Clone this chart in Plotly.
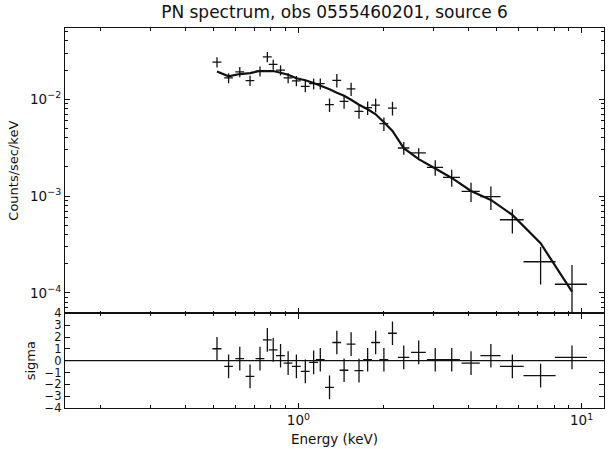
import plotly.graph_objects as go

# ---- data ----
energy = [0.516, 0.567, 0.621, 0.675, 0.732, 0.777, 0.815, 0.865, 0.920, 0.984,
          1.058, 1.132, 1.195, 1.288, 1.367, 1.450, 1.535, 1.637, 1.756, 1.874,
          2.004, 2.149, 2.355, 2.659, 3.042, 3.478, 4.069, 4.782, 5.695, 7.164, 9.247]
energy_err = [0.019, 0.020, 0.022, 0.024, 0.026, 0.028, 0.029, 0.031, 0.033, 0.035,
              0.038, 0.041, 0.043, 0.046, 0.049, 0.052, 0.055, 0.059, 0.063, 0.067,
              0.072, 0.077, 0.11, 0.16, 0.20, 0.24, 0.30, 0.39, 0.55, 0.93, 1.20]
counts = [0.0242, 0.0166, 0.0192, 0.0156, 0.0195, 0.0274, 0.0229, 0.0200, 0.0166, 0.0155,
          0.0136, 0.0145, 0.0145, 0.0088, 0.0157, 0.0095, 0.0128, 0.0075, 0.0082, 0.0087,
          0.0056, 0.0081, 0.00314, 0.00279, 0.00198, 0.00156, 0.00112, 0.00099, 0.00057,
          0.00021, 0.000123]
counts_err = [0.0029, 0.0020, 0.0023, 0.0019, 0.0023, 0.0033, 0.0027, 0.0024, 0.0020, 0.0019,
              0.0018, 0.0019, 0.0019, 0.0014, 0.0025, 0.0015, 0.0020, 0.0012, 0.0013, 0.0014,
              0.0009, 0.0013, 0.00047, 0.00033, 0.00036, 0.00031, 0.00025, 0.00027, 0.00016,
              0.000088, 0.000071]
model = [0.01939, 0.01729, 0.01822, 0.01866, 0.01957, 0.01971, 0.01957, 0.01879, 0.01792, 0.01649,
         0.01572, 0.01470, 0.01389, 0.01269, 0.01167, 0.01087, 0.00988, 0.00877, 0.00788, 0.00700,
         0.00578, 0.00472, 0.00313, 0.00241, 0.00193, 0.00154, 0.00113, 0.000914, 0.000639,
         0.000326, 0.000103]
sigma = [1.01, -0.48, 0.17, -1.32, 0.17, 1.76, 0.92, 0.42, -0.20, -0.48,
         -0.90, -0.14, 0.08, -2.25, 1.54, -0.81, 1.40, -0.84, 0.08, 1.54,
         0.08, 2.32, 0.28, 0.70, 0.08, 0.08, -0.20, 0.42, -0.48, -1.26, 0.28]
sigma_err = [1, 1, 1, 1, 1, 1, 1, 1, 1, 1, 1, 1, 1, 1, 1, 1, 1, 1, 1, 1,
             1, 1, 1, 1, 1, 1, 1, 1, 1, 1, 1]

x_tickvals = [1, 10]
x_ticktext = ["10<sup>0</sup>", "10<sup>1</sup>"]
y_tickvals = [1e-4, 1e-3, 1e-2]
y_ticktext = ["10<sup>\u22124</sup>", "10<sup>\u22123</sup>", "10<sup>\u22122</sup>"]
sigma_ticks = [-4, -3, -2, -1, 0, 1, 2, 3, 4]

title = "PN spectrum, obs 0555460201, source 6"

x_minor = [m * 10.0 ** d for d in (-1, 0) for m in range(2, 10)]
y_minor = [m * 10.0 ** d for d in (-5, -4, -3, -2) for m in range(2, 10)]

INK = "#111111"
FONT = "DejaVu Sans"

fig = go.Figure()

err_style = dict(type="data", symmetric=True, color=INK, thickness=1.3, width=0)

fig.add_trace(go.Scatter(
    x=energy, y=counts, mode="markers",
    marker=dict(size=1, color="rgba(0,0,0,0)"),
    error_x=dict(array=energy_err, **err_style),
    error_y=dict(array=counts_err, **err_style),
    xaxis="x2", yaxis="y", showlegend=False, hoverinfo="skip"))

fig.add_trace(go.Scatter(
    x=energy, y=model, mode="lines",
    line=dict(color=INK, width=2.2),
    xaxis="x2", yaxis="y", showlegend=False))

fig.add_trace(go.Scatter(
    x=energy, y=sigma, mode="markers",
    marker=dict(size=1, color="rgba(0,0,0,0)"),
    error_x=dict(array=energy_err, **err_style),
    error_y=dict(array=sigma_err, **err_style),
    xaxis="x", yaxis="y2", showlegend=False, hoverinfo="skip"))

fig.add_shape(type="line", xref="x domain", x0=0, x1=1, yref="y2", y0=0, y1=0,
              line=dict(color=INK, width=1.3))

axis_common = dict(showline=True, linecolor=INK, linewidth=1.3, mirror="allticks",
                   ticks="inside", ticklen=5, tickwidth=1, tickcolor=INK,
                   showgrid=False, zeroline=False)

split = 0.249

fig.update_layout(
    width=608, height=449,
    margin=dict(l=65, r=4, t=28, b=41),
    paper_bgcolor="white", plot_bgcolor="white",
    font=dict(family=FONT, size=13, color=INK),
    title=dict(text=title, x=0.5, xref="paper", xanchor="center",
               y=1 - 12.5 / 449, yref="container", yanchor="middle",
               font=dict(size=17, family=FONT, color=INK)),
    xaxis=dict(type="log", range=[-0.824, 1.079], domain=[0, 1], anchor="y2",
               tickmode="array", tickvals=x_tickvals, ticktext=x_ticktext,
               tickfont=dict(size=13.5),
               minor=dict(tickmode="array", tickvals=x_minor, ticks="inside",
                          ticklen=2.5, tickcolor=INK, showgrid=False),
               title=dict(text="Energy (keV)", standoff=7, font=dict(size=13.5)),
               **axis_common),
    xaxis2=dict(type="log", range=[-0.824, 1.079], domain=[0, 1], anchor="y",
                matches="x", showticklabels=False,
                tickmode="array", tickvals=x_tickvals,
                minor=dict(tickmode="array", tickvals=x_minor, ticks="inside",
                           ticklen=2.5, tickcolor=INK, showgrid=False),
                **axis_common),
    yaxis=dict(type="log", range=[-4.211, -1.264], domain=[split, 1], anchor="x2",
               tickmode="array", tickvals=y_tickvals, ticktext=y_ticktext,
               tickfont=dict(size=13.5),
               minor=dict(tickmode="array", tickvals=y_minor, ticks="inside",
                          ticklen=2.5, tickcolor=INK, showgrid=False),
               title=dict(text="Counts/sec/keV", standoff=8, font=dict(size=13)),
               **axis_common),
    yaxis2=dict(range=[-4, 4], domain=[0, split], anchor="x",
                tickmode="array", tickvals=sigma_ticks,
                tickfont=dict(size=11.5),
                title=dict(text="sigma", standoff=6, font=dict(size=13)),
                **axis_common),
)

fig.write_html("out.html")
